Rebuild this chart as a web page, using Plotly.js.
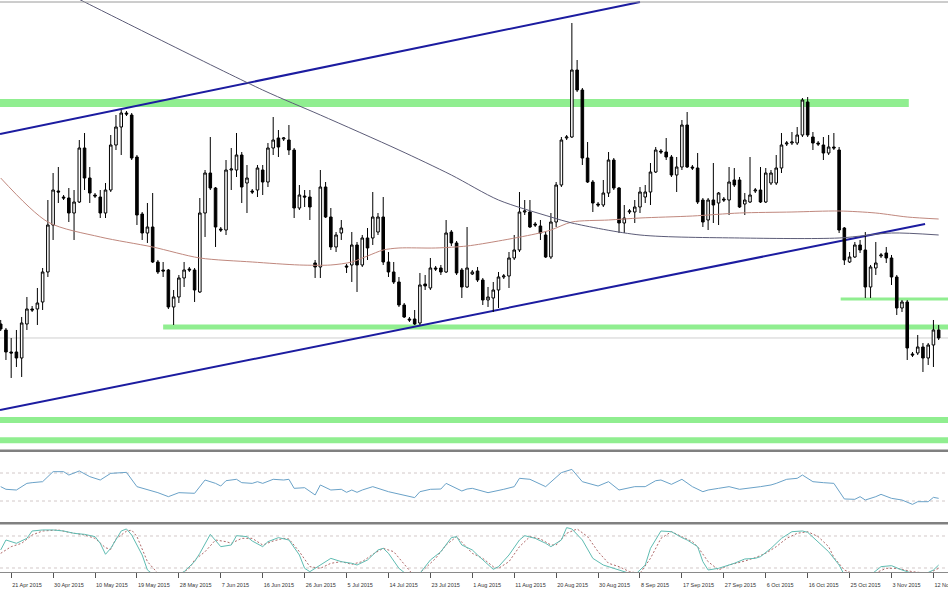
<!DOCTYPE html>
<html>
<head>
<meta charset="utf-8">
<script src="https://cdn.plot.ly/plotly-3.0.1.min.js"></script>
<style>
html,body{margin:0;padding:0;background:#ffffff;}
#chart{width:948px;height:593px;}
</style>
</head>
<body>
<div id="chart"></div>
<script>
// ---- Daily EUR/USD candles (bar index 0 = 19 Apr 2015, Sunday bars included) ----
const open = [
1.0811,1.0793,1.0727,1.0727,1.0709,1.0811,1.0856,1.0856,1.0877,1.0967,
1.1108,1.1210,1.1192,1.1189,1.1144,1.1177,1.1339,1.1249,1.1198,1.1192,
1.1144,1.1213,1.1348,1.1402,1.1444,1.1438,1.1312,1.1141,1.1084,1.1102,
1.0997,1.0973,1.0973,1.0862,1.0892,1.0949,1.0976,1.0973,1.0907,1.1144,
1.1264,1.1219,1.1096,1.1093,1.1273,1.1273,1.1318,1.1234,1.1210,1.1213,
1.1273,1.1237,1.1339,1.1369,1.1366,1.1363,1.1333,1.1159,1.1195,1.1192,
1.0994,1.0982,1.1222,1.1132,1.1042,1.1084,1.0985,1.0988,1.1048,1.0988,
1.1069,1.1069,1.1087,1.1132,1.0997,1.0967,1.0937,1.0868,1.0826,1.0826,
1.0814,1.0931,1.0919,1.0979,1.0979,1.0967,1.1087,1.1054,1.0973,1.0922,
1.0961,1.0970,1.0943,1.0883,1.0889,1.0913,1.0952,1.0955,1.1009,1.1033,
1.1147,1.1147,1.1111,1.1105,1.1078,1.1012,1.1117,1.1228,1.1369,1.1372,
1.1573,1.1513,1.1309,1.1237,1.1171,1.1168,1.1204,1.1303,1.1219,1.1114,
1.1147,1.1147,1.1162,1.1192,1.1207,1.1267,1.1330,1.1327,1.1312,1.1258,
1.1282,1.1408,1.1282,1.1279,1.1183,1.1123,1.1183,1.1174,1.1186,1.1183,
1.1243,1.1243,1.1171,1.1177,1.1210,1.1213,1.1177,1.1234,1.1234,1.1279,
1.1351,1.1354,1.1354,1.1378,1.1477,1.1372,1.1354,1.1348,1.1324,1.1342,
1.1333,1.1099,1.0997,1.1012,1.1048,1.1033,1.0922,1.0979,1.1015,1.1024,
1.1009,1.0952,1.0859,1.0877,1.0721,1.0724,1.0742,1.0709,1.0748,1.0793
];
const high = [
1.0823,1.0799,1.0769,1.0793,1.0832,1.0892,1.0865,1.0919,1.0979,1.1183,
1.1264,1.1282,1.1198,1.1219,1.1213,1.1363,1.1384,1.1282,1.1204,1.1213,
1.1234,1.1378,1.1438,1.1453,1.1450,1.1444,1.1318,1.1147,1.1174,1.1204,
1.1003,1.0997,1.0976,1.0913,1.0958,1.0997,1.0982,1.0979,1.1189,1.1273,
1.1372,1.1222,1.1102,1.1303,1.1339,1.1384,1.1327,1.1288,1.1216,1.1288,
1.1288,1.1354,1.1432,1.1393,1.1372,1.1408,1.1339,1.1228,1.1213,1.1213,
1.1003,1.1273,1.1237,1.1159,1.1087,1.1123,1.0991,1.1087,1.1057,1.1078,
1.1099,1.1207,1.1144,1.1192,1.1027,1.0997,1.0952,1.0874,1.0832,1.0853,
1.0964,1.0958,1.1009,1.0985,1.0988,1.1123,1.1093,1.1060,1.0979,1.1102,
1.0973,1.0982,1.0949,1.0922,1.0937,1.0967,1.0961,1.1027,1.1078,1.1207,
1.1183,1.1183,1.1117,1.1123,1.1087,1.1144,1.1237,1.1372,1.1378,1.1714,
1.1603,1.1519,1.1357,1.1243,1.1177,1.1243,1.1327,1.1309,1.1222,1.1168,
1.1156,1.1183,1.1222,1.1228,1.1294,1.1342,1.1336,1.1369,1.1318,1.1312,
1.1423,1.1447,1.1288,1.1324,1.1189,1.1189,1.1294,1.1207,1.1192,1.1282,
1.1279,1.1252,1.1204,1.1312,1.1219,1.1282,1.1279,1.1273,1.1318,1.1384,
1.1360,1.1387,1.1402,1.1489,1.1492,1.1387,1.1360,1.1372,1.1378,1.1384,
1.1342,1.1102,1.1027,1.1057,1.1063,1.1087,1.0988,1.1057,1.1024,1.1042,
1.1018,1.0958,1.0883,1.0883,1.0727,1.0778,1.0754,1.0754,1.0823,1.0808
];
const low = [
1.0790,1.0703,1.0649,1.0682,1.0652,1.0793,1.0847,1.0808,1.0853,1.0952,
1.1063,1.1174,1.1183,1.1117,1.1063,1.1174,1.1213,1.1174,1.1189,1.1129,
1.1129,1.1207,1.1333,1.1318,1.1435,1.1303,1.1108,1.1063,1.1054,1.0994,
1.0961,1.0952,1.0856,1.0808,1.0874,1.0922,1.0967,1.0877,1.0904,1.1072,
1.1213,1.1042,1.1087,1.1078,1.1213,1.1252,1.1174,1.1144,1.1201,1.1192,
1.1198,1.1222,1.1318,1.1312,1.1360,1.1318,1.1129,1.1153,1.1162,1.1123,
1.0949,1.0949,1.1129,1.1033,1.1027,1.1063,1.0964,1.0937,1.0907,1.0982,
1.1003,1.1048,1.1078,1.0988,1.0952,1.0931,1.0862,1.0829,1.0817,1.0808,
1.0808,1.0913,1.0913,1.0970,1.0958,1.0964,1.1045,1.0958,1.0889,1.0919,
1.0958,1.0937,1.0868,1.0862,1.0847,1.0859,1.0946,1.0919,1.1003,1.1027,
1.1138,1.1099,1.1102,1.1063,1.1009,1.1006,1.1102,1.1222,1.1363,1.1369,
1.1507,1.1288,1.1234,1.1147,1.1162,1.1162,1.1192,1.1213,1.1084,1.1084,
1.1141,1.1114,1.1144,1.1174,1.1168,1.1264,1.1321,1.1303,1.1252,1.1207,
1.1273,1.1279,1.1273,1.1171,1.1102,1.1093,1.1114,1.1108,1.1177,1.1138,
1.1222,1.1159,1.1138,1.1174,1.1204,1.1174,1.1174,1.1228,1.1228,1.1264,
1.1345,1.1348,1.1348,1.1372,1.1372,1.1333,1.1345,1.1303,1.1318,1.1333,
1.1084,1.0988,1.0994,1.1009,1.1024,1.0889,1.0889,1.0958,1.1009,1.0994,
1.0928,1.0838,1.0847,1.0703,1.0712,1.0718,1.0667,1.0688,1.0682,1.0763
];
const close = [
1.0796,1.0727,1.0724,1.0709,1.0814,1.0856,1.0853,1.0874,1.0967,1.1108,
1.1213,1.1207,1.1189,1.1144,1.1177,1.1339,1.1249,1.1204,1.1195,1.1144,
1.1213,1.1348,1.1402,1.1444,1.1441,1.1309,1.1138,1.1084,1.1102,1.0997,
1.0967,1.0970,1.0862,1.0892,1.0949,1.0973,1.0973,1.0913,1.1144,1.1264,
1.1219,1.1102,1.1093,1.1273,1.1276,1.1318,1.1222,1.1249,1.1207,1.1279,
1.1237,1.1339,1.1363,1.1342,1.1369,1.1333,1.1159,1.1198,1.1192,1.1162,
1.0982,1.1222,1.1132,1.1042,1.1078,1.1099,1.0982,1.1048,1.0988,1.1069,
1.1039,1.1132,1.1132,1.0997,1.0967,1.0937,1.0868,1.0832,1.0823,1.0811,
1.0928,1.0925,1.0979,1.0976,1.0967,1.1084,1.1054,1.0964,1.0922,1.0979,
1.0967,1.0943,1.0883,1.0892,1.0913,1.0952,1.0955,1.1009,1.1033,1.1147,
1.1150,1.1102,1.1108,1.1084,1.1012,1.1117,1.1228,1.1363,1.1372,1.1573,
1.1513,1.1309,1.1237,1.1174,1.1168,1.1204,1.1303,1.1219,1.1114,1.1129,
1.1150,1.1162,1.1207,1.1207,1.1267,1.1333,1.1327,1.1312,1.1258,1.1282,
1.1408,1.1282,1.1279,1.1177,1.1117,1.1183,1.1168,1.1204,1.1183,1.1237,
1.1228,1.1162,1.1183,1.1198,1.1213,1.1177,1.1264,1.1264,1.1279,1.1348,
1.1354,1.1357,1.1378,1.1483,1.1378,1.1354,1.1351,1.1324,1.1342,1.1339,
1.1093,1.1003,1.1012,1.1048,1.1033,1.0922,1.0982,1.0994,1.1018,1.1009,
1.0952,1.0859,1.0877,1.0739,1.0718,1.0742,1.0709,1.0748,1.0793,1.0769
];

// ---- Time axis labels (bar index -> label) ----
const tickIndex = [2,10,18,26,34,42,50,58,66,74,82,90,98,106,114,122,130,138,146,154,162,170,178];
const tickLabels = ["21 Apr 2015","30 Apr 2015","10 May 2015","19 May 2015","28 May 2015","7 Jun 2015",
  "16 Jun 2015","26 Jun 2015","5 Jul 2015","14 Jul 2015","23 Jul 2015","1 Aug 2015","11 Aug 2015",
  "20 Aug 2015","30 Aug 2015","8 Sep 2015","17 Sep 2015","27 Sep 2015","6 Oct 2015","16 Oct 2015",
  "25 Oct 2015","3 Nov 2015","12 Nov 2015"];

// ---- Moving averages (read at sample bars) ----
const maFastIndex = [0,9,19,29,38,48,57,63,67,70,73,76,83,89,95,102,105,109,116,122,132,141,151,160,167,173,179];
const maFastPrice = [1.1249,1.1117,1.1072,1.1042,1.1009,1.0997,1.0988,1.0988,1.0997,1.1015,1.1033,1.1039,1.1039,1.1045,1.1060,1.1081,1.1093,1.1117,1.1123,1.1129,1.1135,1.1144,1.1147,1.1150,1.1144,1.1132,1.1126];
const maSlowIndex = [13,16,50,61,76,86,95,105,109,122,141,160,170,179];
const maSlowPrice = [1.1801,1.1777,1.1513,1.1438,1.1333,1.1258,1.1183,1.1132,1.1114,1.1078,1.1069,1.1069,1.1084,1.1078];

// ---- Support / resistance levels and trend lines ----
const levelPrice = [1.1474,1.0802,1.0886,1.0523,1.0462];
const levelStart = [-0.2,31,160.3,-0.2,-0.2];
const levelEnd   = [173.3,181,181,181,181];
const trendStartIndex = [-0.13,-0.13];
const trendStartPrice = [1.1381,1.0553];
const trendEndIndex   = [122.0,176.4];
const trendEndPrice   = [1.1777,1.1111];

// ---- RSI ----
const rsiIndex = [0,1,3,5,6,8,10,12,13,15,17,19,21,24,26,28,30,32,34,37,39,41,42,43,45,46,48,49,50,52,54,55,56,58,60,61,63,65,66,67,68,69,71,74,76,78,79,80,82,84,85,88,89,90,93,96,98,99,101,104,107,109,111,114,116,118,121,123,125,126,128,130,132,134,135,137,139,141,144,145,147,148,150,152,153,155,157,159,161,163,164,165,167,168,170,172,174,175,177,178,179];
const rsiValue = [50.5,46.7,45.7,55.2,56.2,57.6,71.9,71.9,67.1,72.9,64.8,60,69.5,70.9,50.5,46.7,41.9,36.2,41.9,41,60,55.2,51.4,59,61,56.2,55.2,57.6,55.2,61,60,61,48.1,49,38.6,52.9,45.7,46.7,42.4,45.7,42.4,45.7,50.5,43.3,40,36.2,34.8,43.3,46.7,47.1,55.2,44.3,47.1,48.1,41.9,46.7,50.5,62.4,61,50.5,70.5,75.2,57.6,51.4,57.6,45.7,50.5,50.5,59,60,53.8,61,50.5,43.3,45.7,48.1,50.5,46.7,49,50.5,52.9,55.2,61,62.4,67.1,57.6,56.2,55.2,32.9,32.4,36.2,31.4,36.2,39.5,33.8,31.4,25.2,29,29,35.2,33.8];

// ---- Stochastic ----
const stochMainIndex = [0,1,3,5,6,8,10,12,14,16,18,19,20,21,23,24,25,27,28,29,30,33,35,37,38,40,41,42,44,45,47,48,50,51,53,55,57,58,59,60,62,63,65,67,68,70,72,73,74,76,78,80,82,84,86,87,88,90,91,93,94,95,97,99,100,102,104,105,107,108,109,111,113,115,117,119,121,123,124,126,128,130,131,133,134,135,137,140,142,144,145,147,149,151,153,154,156,158,160,161,164,166,168,170,172,174,176,178,179];
const stochMainValue = [53.8,72.5,66.3,75.6,89.4,91.3,91.3,89.4,85,83.1,78.8,66.3,45.7,56.9,89.4,93.2,81.9,44.4,16.3,6.9,1,3.8,13.1,31.9,47.5,83.1,72.5,60,63.1,80.6,78.8,70.6,60,69.4,76.9,72.5,44.4,19.4,13.1,19.4,31.9,38.1,31.9,28.8,25.6,35,53.8,56.9,47.5,19.4,3.8,10,35,50.6,76.9,78.8,63.1,53.8,44.4,25.6,17.5,22.5,44.4,72.5,80.6,75.6,66.3,60,72.5,95.7,93.2,72.5,38.1,25.6,19.4,13.1,6.9,25.6,56.9,89.4,88.1,76.9,72.5,60,31.9,16.3,19.4,28.8,36.9,38.1,41.3,56.9,75.6,88.1,89.4,86.9,69.4,50.6,25.6,6.9,3.8,6.9,22.5,24.4,16.3,10,6.9,16.3,25.6];
const stochSignalIndex = [0,2,4,6,8,11,13,16,18,20,21,22,24,25,26,27,28,30,32,34,36,37,39,41,43,44,46,48,50,52,54,55,57,59,61,63,65,67,69,71,73,75,77,79,81,83,85,87,90,92,94,95,97,99,101,103,105,106,108,110,112,114,116,118,120,122,124,126,128,130,132,133,135,137,139,142,144,146,148,150,152,154,156,158,159,161,164,166,169,171,174,177,179];
const stochSignalValue = [47.5,60,66.3,81.9,89.4,91.3,86.9,81.9,75.6,58,55,75,89,91,79,57,32,10,2,6.9,19.4,35,50.6,72.5,69.4,66.3,75.6,75.6,63.1,70.6,75.6,74.4,50.6,22.5,19.4,28.8,31.9,26.9,31.9,45.6,56.9,50.6,25.6,3.8,19.4,38.1,63.1,78.8,47.5,38.1,22.5,19.4,31.9,60,78.8,74.4,63.1,63.1,85,93.2,78.8,50.6,28.8,22.5,13.1,10,38.1,75.6,88.1,78.8,69.4,60,31.9,16.3,25.6,33.1,39.4,47.5,60,75.6,85,88.1,78.8,60,40,16.3,3.8,6.9,19.4,19.4,13.1,10,19.4];

const barIndex = open.map((_, i) => i);
const lastClose = close[close.length - 1];

// ---- Traces ----
const traces = [
  {type:'candlestick', x:barIndex, open:open, high:high, low:low, close:close,
   xaxis:'x', yaxis:'y', whiskerwidth:0, hoverinfo:'skip',
   increasing:{line:{color:'#000000', width:1}, fillcolor:'#ffffff'},
   decreasing:{line:{color:'#000000', width:1}, fillcolor:'#000000'}},
  {type:'scatter', mode:'lines', x:maFastIndex, y:maFastPrice, xaxis:'x', yaxis:'y',
   line:{color:'#c0887e', width:1, shape:'spline', smoothing:0.8}, hoverinfo:'skip'},
  {type:'scatter', mode:'lines', x:maSlowIndex, y:maSlowPrice, xaxis:'x', yaxis:'y',
   line:{color:'#5c5c78', width:1, shape:'spline', smoothing:0.8}, hoverinfo:'skip'},
  {type:'scatter', mode:'lines', x:rsiIndex, y:rsiValue, xaxis:'x', yaxis:'y2',
   line:{color:'#6aa2c8', width:1}, hoverinfo:'skip'},
  {type:'scatter', mode:'lines', x:stochSignalIndex, y:stochSignalValue, xaxis:'x', yaxis:'y3',
   line:{color:'#b06a6a', width:1, dash:'2px,2px'}, hoverinfo:'skip'},
  {type:'scatter', mode:'lines', x:stochMainIndex, y:stochMainValue, xaxis:'x', yaxis:'y3',
   line:{color:'#5fbcb2', width:1}, hoverinfo:'skip'}
];

// ---- Shapes ----
const shapes = [];
const levelWidths = [8,5,3,6,6];
levelPrice.forEach((p, k) => {
  shapes.push({type:'line', xref:'x', yref:'y', x0:levelStart[k], x1:levelEnd[k], y0:p, y1:p,
    line:{color:'#90ee90', width:levelWidths[k]}, layer:'below'});
});
trendStartIndex.forEach((x0, k) => {
  shapes.push({type:'line', xref:'x', yref:'y', x0:x0, y0:trendStartPrice[k], x1:trendEndIndex[k], y1:trendEndPrice[k],
    line:{color:'#1c1ca0', width:2}, layer:'below'});
});
// last price line
shapes.push({type:'line', xref:'paper', yref:'y', x0:0, x1:1, y0:lastClose, y1:lastClose,
  line:{color:'#cfcfcf', width:1}, layer:'below'});
// indicator levels
[70,30].forEach(v => shapes.push({type:'line', xref:'paper', yref:'y2', x0:0, x1:1, y0:v, y1:v,
  line:{color:'#d2c8c8', width:1, dash:'dot'}, layer:'below'}));
[80,20].forEach(v => shapes.push({type:'line', xref:'paper', yref:'y3', x0:0, x1:1, y0:v, y1:v,
  line:{color:'#d2c8c8', width:1, dash:'dot'}, layer:'below'}));
// window separators and top border
shapes.push({type:'rect', xref:'paper', yref:'paper', x0:0, x1:1, y0:0.2098, y1:0.2142,
  line:{width:0}, fillcolor:'#808080', layer:'above'});
shapes.push({type:'rect', xref:'paper', yref:'paper', x0:0, x1:1, y0:0.0830, y1:0.0874,
  line:{width:0}, fillcolor:'#808080', layer:'above'});
shapes.push({type:'line', xref:'paper', yref:'paper', x0:0, x1:1, y0:0.9965, y1:0.9965,
  line:{color:'#9a9a9a', width:1}, layer:'above'});

const layout = {
  width:948, height:593,
  margin:{l:0, r:0, t:0, b:21, pad:0},
  paper_bgcolor:'#ffffff', plot_bgcolor:'#ffffff',
  showlegend:false, hovermode:false, dragmode:false,
  boxgap:0.3,
  xaxis:{domain:[0,1], range:[-0.134,180.78], anchor:'y3', showgrid:false, zeroline:false,
    showline:true, linecolor:'#8a8a8a', linewidth:1, ticks:'outside', ticklen:5, tickcolor:'#555555',
    tickvals:tickIndex, ticktext:tickLabels, ticklabelposition:'outside right', ticklabeloverflow:'allow',
    ticklabelstandoff:7,
    tickfont:{family:'Liberation Sans, Arial, sans-serif', size:5.5, color:'#333333'},
    rangeslider:{visible:false}, fixedrange:true},
  yaxis:{domain:[0.2168,1], range:[1.0439,1.1783], visible:false, fixedrange:true},
  yaxis2:{domain:[0.08741,0.20979], range:[0,100], visible:false, fixedrange:true},
  yaxis3:{domain:[0,0.08392], range:[12.5,102.5], visible:false, fixedrange:true},
  shapes:shapes
};

Plotly.newPlot('chart', traces, layout, {displayModeBar:false, staticPlot:true});
</script>
</body>
</html>
